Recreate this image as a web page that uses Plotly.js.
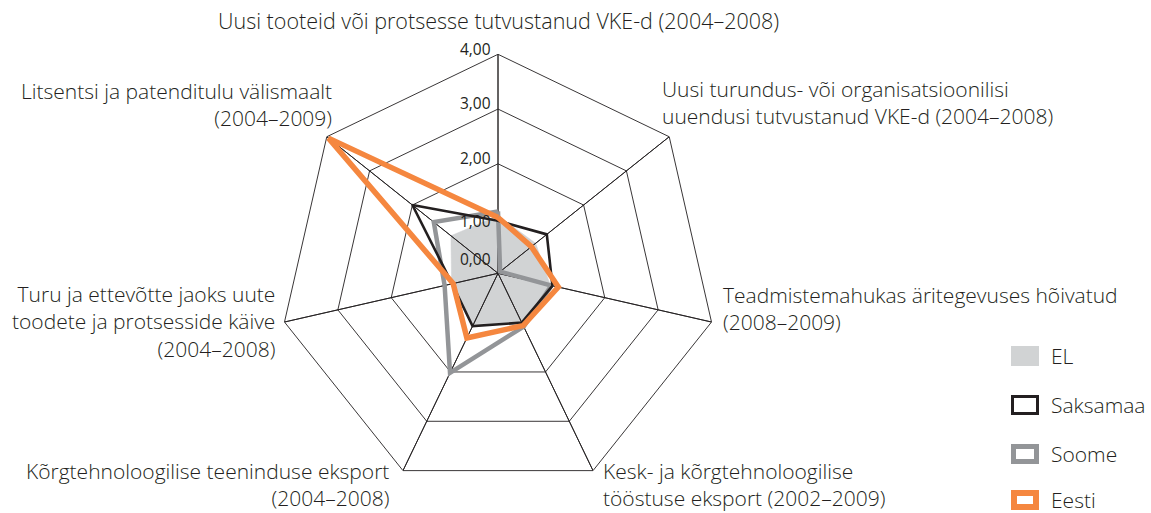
<!DOCTYPE html>
<html>
<head>
<meta charset="utf-8">
<script src="https://cdn.plot.ly/plotly-3.0.1.min.js"></script>
<style>
  html, body { margin: 0; padding: 0; background: #ffffff; }
  #chart { width: 1151px; height: 513px; }
</style>
</head>
<body>
<div id="chart"></div>
<script>
// ---------- data ----------
const categories = [
  "Uusi tooteid või protsesse tutvustanud VKE-d (2004–2008)",
  "Uusi turundus- või organisatsioonilisi uuendusi tutvustanud VKE-d (2004–2008)",
  "Teadmistemahukas äritegevuses hõivatud (2008–2009)",
  "Kesk- ja kõrgtehnoloogilise tööstuse eksport (2002–2009)",
  "Kõrgtehnoloogilise teeninduse eksport (2004–2008)",
  "Turu ja ettevõtte jaoks uute toodete ja protsesside käive (2004–2008)",
  "Litsentsi ja patenditulu välismaalt (2004–2009)"
];
const categoryLabels = [
  "Uusi tooteid või protsesse tutvustanud VKE-d (2004–2008)",
  "Uusi turundus- või organisatsioonilisi<br>uuendusi tutvustanud VKE-d (2004–2008)",
  "Teadmistemahukas äritegevuses hõivatud<br>(2008–2009)",
  "Kesk- ja kõrgtehnoloogilise<br>tööstuse eksport (2002–2009)",
  "Kõrgtehnoloogilise teeninduse eksport<br>(2004–2008)",
  "Turu ja ettevõtte jaoks uute<br>toodete ja protsesside käive<br>(2004–2008)",
  "Litsentsi ja patenditulu välismaalt<br>(2004–2009)"
];
const seriesNames = ["EL", "Saksamaa", "Soome", "Eesti"];
const elValues       = [1.05, 0.88, 0.98, 1.00, 1.03, 0.87, 1.10];
const saksamaaValues = [0.96, 1.14, 1.02, 1.00, 1.07, 0.86, 2.00];
const soomeValues    = [1.13, 0.05, 1.00, 1.08, 2.02, 1.00, 1.50];
const eestiValues    = [1.02, 0.78, 1.13, 1.06, 1.31, 0.84, 3.96];
const radialTickVals = [0, 1, 2, 3, 4];
const radialTickText = ["0,00", "1,00", "2,00", "3,00", "4,00"];

// ---------- helpers ----------
const W = 1151, H = 513;
const px = x => x / W;
const py = y => 1 - y / H;
const close = arr => arr.concat([arr[0]]);

const TEXT = "#231f20";
const FONT = "Open Sans, Noto Sans, sans-serif";
const rMax = radialTickVals[radialTickVals.length - 1];

// spokes: out and back along every category
const spokeR = [], spokeT = [];
categories.forEach(c => { spokeR.push(0, rMax, 0); spokeT.push(c, c, c); });

const styles = {
  EL:       { line: { color: "#d1d3d4", width: 0.5 }, fill: "toself", fillcolor: "#d1d3d4" },
  Saksamaa: { line: { color: "#231f20", width: 2.6 } },
  Soome:    { line: { color: "#939598", width: 4.5 } },
  Eesti:    { line: { color: "#f5873f", width: 5.5 } }
};
const valuesByName = { EL: elValues, Saksamaa: saksamaaValues, Soome: soomeValues, Eesti: eestiValues };

function seriesTrace(name) {
  return Object.assign({
    type: "scatterpolar",
    mode: "lines",
    name: name,
    r: close(valuesByName[name]),
    theta: close(categories),
    hoverinfo: "name+r+theta",
    showlegend: false
  }, styles[name]);
}

const traces = [
  seriesTrace("EL"),
  { type: "scatterpolar", mode: "lines", r: spokeR, theta: spokeT,
    line: { color: TEXT, width: 0.9 }, hoverinfo: "skip", showlegend: false },
  seriesTrace("Soome"),
  seriesTrace("Saksamaa"),
  seriesTrace("Eesti")
];

// ---------- layout ----------
const cx = 498, cy = 273.3, R = 219;

const labelPlacement = [
  { x: 498, y: 20,  xanchor: "center", align: "center", size: 21.5 },
  { x: 660, y: 103, xanchor: "left",   align: "left",   size: 21 },
  { x: 721, y: 308, xanchor: "left",   align: "left",   size: 21 },
  { x: 601, y: 484, xanchor: "left",   align: "left",   size: 21 },
  { x: 391, y: 484, xanchor: "right",  align: "right",  size: 21 },
  { x: 277, y: 321, xanchor: "right",  align: "right",  size: 21 },
  { x: 334, y: 104, xanchor: "right",  align: "right",  size: 21 }
];
const radialLabelY = [259, 221, 157.5, 103.5, 49];

const annotations = [];
categoryLabels.forEach((t, i) => {
  const p = labelPlacement[i];
  annotations.push({
    xref: "paper", yref: "paper", x: px(p.x), y: py(p.y),
    xanchor: p.xanchor, yanchor: "middle", align: p.align,
    text: t, showarrow: false,
    font: { family: FONT, size: p.size, color: TEXT, weight: 300 }
  });
});
radialTickText.forEach((t, i) => {
  annotations.push({
    xref: "paper", yref: "paper", x: px(493), y: py(radialLabelY[i]),
    xanchor: "right", yanchor: "middle", text: t, showarrow: false,
    font: { family: FONT, size: 15.5, color: TEXT, weight: 400 }
  });
});

// legend (drawn by hand to get outlined boxes)
const legendY = [356, 405, 454, 500];
const legendBox = [
  { fill: "#d1d3d4", line: 0 },
  { fill: "rgba(0,0,0,0)", line: 3, color: "#231f20" },
  { fill: "rgba(0,0,0,0)", line: 5, color: "#939598" },
  { fill: "rgba(0,0,0,0)", line: 6, color: "#f5873f" }
];
const shapes = [];
seriesNames.forEach((n, i) => {
  const b = legendBox[i];
  const h = b.line === 0 ? 0 : b.line / 2;
  shapes.push({
    type: "rect", xref: "paper", yref: "paper",
    x0: px(1011 + h), x1: px(1039 - h),
    y0: py(legendY[i] - 10 + h), y1: py(legendY[i] + 10 - h),
    fillcolor: b.fill,
    line: { width: b.line, color: b.color || b.fill }
  });
  annotations.push({
    xref: "paper", yref: "paper", x: px(1049), y: py(legendY[i]),
    xanchor: "left", yanchor: "middle", text: n, showarrow: false,
    font: { family: FONT, size: 21, color: TEXT, weight: 300 }
  });
});

const layout = {
  width: W, height: H,
  margin: { l: 0, r: 0, t: 0, b: 0 },
  paper_bgcolor: "#ffffff",
  showlegend: false,
  font: { family: FONT, color: TEXT },
  polar: {
    domain: { x: [px(cx - R), px(cx + R)], y: [py(cy + R), py(cy - R)] },
    gridshape: "linear",
    bgcolor: "#ffffff",
    radialaxis: {
      range: [0, rMax],
      tickvals: [2, 3],
      showticklabels: false,
      ticks: "",
      showline: false,
      gridcolor: TEXT,
      gridwidth: 0.9
    },
    angularaxis: {
      type: "category",
      categoryarray: categories,
      rotation: 90,
      direction: "clockwise",
      showline: true,
      linecolor: TEXT,
      linewidth: 0.9,
      showgrid: false,
      showticklabels: false,
      ticks: ""
    }
  },
  annotations: annotations,
  shapes: shapes
};

Plotly.newPlot("chart", traces, layout, { displayModeBar: false, staticPlot: true });
</script>
</body>
</html>
